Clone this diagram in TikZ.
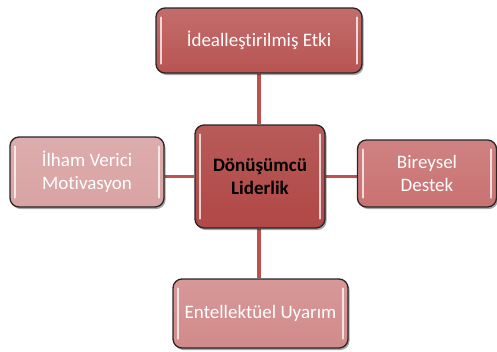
\documentclass[tikz,border=0pt]{standalone}
\usepackage{fontspec}
\setmainfont{Carlito}[Ligatures={NoCommon}]
\usetikzlibrary{shadows,backgrounds}
\definecolor{linkred}{HTML}{C0504D}
\definecolor{ctop}{HTML}{B85452}
\definecolor{ccen}{HTML}{B04846}
\definecolor{cleft}{HTML}{D9A3A3}
\definecolor{cright}{HTML}{C97171}
\definecolor{cbot}{HTML}{D28A8A}
\tikzset{
  box/.style={draw=black!85, line width=1.3pt, rounded corners=9pt,
    text=white, align=center, inner sep=0pt, font=\fontsize{19}{23}\selectfont,
    drop shadow={shadow xshift=1.5pt, shadow yshift=-2pt, opacity=0.35, fill=black}},
  link/.style={draw=linkred, line width=3.5pt},
  hl/.style={draw=white, line width=2.2pt, line cap=round, opacity=0.75}
}
\newcommand{\hlbars}[1]{%
  \draw[hl] ([xshift=6pt,yshift=-10pt]#1.north west) -- ([xshift=6pt,yshift=10pt]#1.south west);
  \draw[hl] ([xshift=-6pt,yshift=-10pt]#1.north east) -- ([xshift=-6pt,yshift=10pt]#1.south east);
}
\begin{document}
\begin{tikzpicture}[x=1pt,y=-1pt]
\useasboundingbox (0,0) rectangle (497,351);
\node[box, minimum width=206pt, minimum height=65pt, top color=ctop!85!white, bottom color=ctop] (t) at (259,40.5) {İdealleştirilmiş Etki};
\node[box, minimum width=130pt, minimum height=103pt, top color=ccen!90!white, bottom color=ccen, text=black, font=\fontsize{19}{23}\selectfont\bfseries] (c) at (260,176.5) {Dönüşümcü\\Liderlik};
\node[box, minimum width=154pt, minimum height=70pt, top color=cleft!90!white, bottom color=cleft] (l) at (87,172) {İlham Verici\\Motivasyon};
\node[box, minimum width=139pt, minimum height=67pt, top color=cright!88!white, bottom color=cright] (r) at (427,173.5) {Bireysel\\Destek};
\node[box, minimum width=175pt, minimum height=69pt, top color=cbot!88!white, bottom color=cbot] (b) at (260.5,313.5) {Entellektüel Uyarım};
\hlbars{t}\hlbars{c}\hlbars{l}\hlbars{r}\hlbars{b}
\begin{scope}[on background layer]
\draw[link] (t.south -| c.north) ++(-1,0) -- ([xshift=-1pt]c.north);
\draw[link] ([xshift=-1pt]c.south) -- ([xshift=-1pt]c.south |- b.north);
\draw[link] (c.west) -- (c.west -| l.east);
\draw[link] (c.east) -- (c.east -| r.west);
\end{scope}
\end{tikzpicture}
\end{document}
